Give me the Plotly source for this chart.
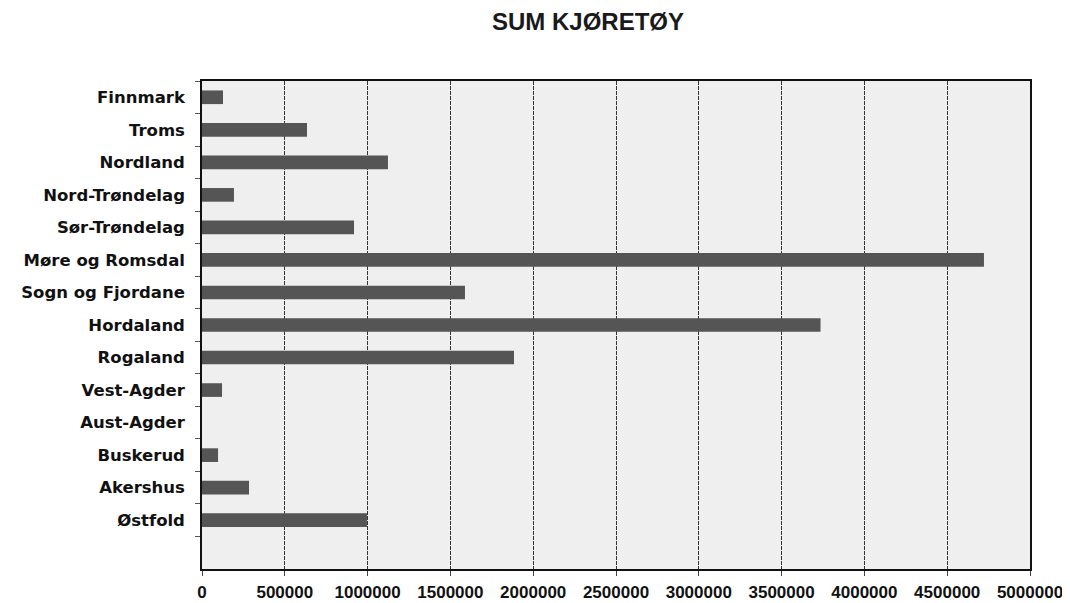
import plotly.graph_objects as go

# fylker, bottom to top as in the chart
fylker = [
    "Østfold", "Akershus", "Buskerud", "Aust-Agder", "Vest-Agder",
    "Rogaland", "Hordaland", "Sogn og Fjordane", "Møre og Romsdal",
    "Sør-Trøndelag", "Nord-Trøndelag", "Nordland", "Troms", "Finnmark",
]

sum_kjoretoy = [
    996000, 284000, 97000, 0, 121000,
    1884000, 3735000, 1588000, 4722000,
    918000, 193000, 1123000, 634000, 127000,
]

x_ticks = [0, 500000, 1000000, 1500000, 2000000, 2500000,
           3000000, 3500000, 4000000, 4500000, 5000000]


def bar_chart():

    fig = go.Figure(
        go.Bar(
            x=sum_kjoretoy,
            y=fylker,
            orientation="h",
            width=0.42,
            marker=dict(color="#555555", line=dict(width=0)),
        )
    )

    # page body adds ~7px offset, margins compensate for it
    fig.update_layout(
        width=1070,
        height=603,
        margin=dict(l=194, r=48, t=73, b=42),
        paper_bgcolor="white",
        plot_bgcolor="#efefef",
        showlegend=False,
        font=dict(family="Liberation Sans, Arial, sans-serif", color="#111111"),
        title=dict(
            text="<b>SUM KJØRETØY</b>",
            x=580 / 1070,
            xanchor="center",
            y=1 - 14 / 603,
            yanchor="middle",
            font=dict(size=24, color="#1a1a1a",
                      family="Liberation Sans, Arial, sans-serif"),
        ),
    )

    fig.update_xaxes(
        automargin=False,
        range=[0, 5000000],
        tickvals=x_ticks,
        tickformat=".0f",
        tickfont=dict(size=17, weight="bold",
                      family="Liberation Sans, Arial, sans-serif"),
        showgrid=True,
        gridcolor="#333333",
        gridwidth=1,
        griddash="4px,1px",
        showline=True,
        linecolor="#111111",
        linewidth=1.5,
        mirror=True,
        ticks="outside",
        ticklen=5,
        tickcolor="#444444",
        zeroline=False,
        ticklabelstandoff=2,
    )

    fig.update_yaxes(
        automargin=False,
        categoryorder="array",
        categoryarray=fylker,
        range=[-1.5, 13.5],
        tickfont=dict(size=16.5, weight="bold",
                      family="DejaVu Sans, Verdana, sans-serif"),
        showgrid=False,
        showline=True,
        linecolor="#111111",
        linewidth=1.5,
        mirror=True,
        ticks="outside",
        ticklen=5,
        tickcolor="#555555",
        tickson="boundaries",
        ticklabelstandoff=12,
    )

    return fig


fig = bar_chart()
fig.write_html("out.html")
